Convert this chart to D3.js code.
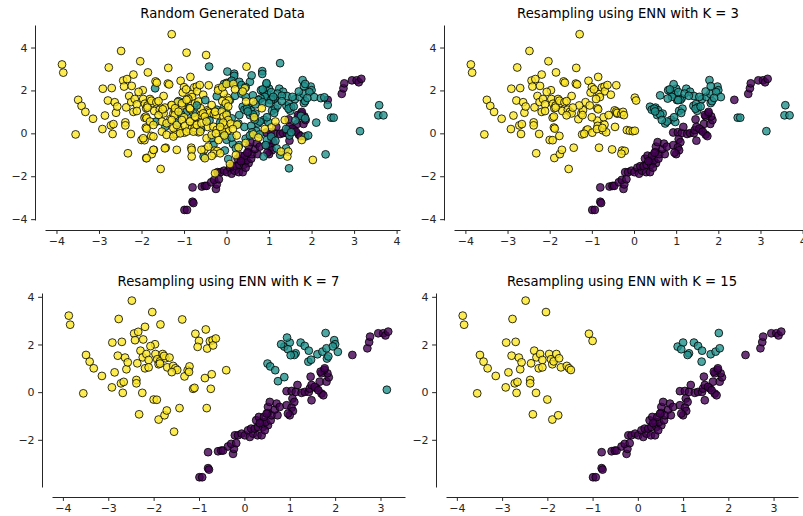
<!DOCTYPE html>
<html><head><meta charset="utf-8">
<script src="https://cdn.jsdelivr.net/npm/d3@7"></script>
<style>body{margin:0;background:#fff}text{font-family:"DejaVu Sans",sans-serif}</style>
</head><body><svg id="c" width="803" height="516"></svg>
<script>
// viridis colours for the three classes
const classColors = ["#440154", "#21918c", "#fde725"];

// class 0 (minority, kept in every panel)
const purple = [[-0.99,-3.57],[-0.93,-3.57],[-0.80,-3.19],[-0.78,-3.25],[-0.80,-2.52],[-0.58,-2.48],[-0.51,-2.45],[-0.47,-2.45],[-0.36,-2.28],[-0.25,-2.59],[-0.23,-2.38],[-0.29,-2.17],[-0.18,-2.14],[-0.21,-1.81],[-0.14,-1.81],[-0.06,-1.74],[0.01,-1.81],[0.08,-1.60],[0.12,-1.88],[0.19,-1.74],[0.15,-1.53],[0.23,-1.53],[0.29,-1.81],[0.38,-1.81],[0.30,-1.46],[0.41,-1.46],[0.52,-1.39],[0.26,-1.18],[0.38,-1.25],[0.47,-1.25],[0.58,-1.18],[0.32,-1.04],[0.43,-1.04],[0.52,-0.87],[0.60,-0.97],[0.73,-0.97],[0.67,-0.73],[0.52,-0.62],[0.56,-0.41],[0.71,-0.48],[0.78,-0.62],[0.49,-0.90],[0.34,-1.30],[0.45,-1.60],[0.93,0.04],[1.04,0.05],[1.13,0.01],[1.17,0.30],[1.26,-0.03],[1.33,0.01],[1.42,0.01],[1.44,0.15],[1.46,0.65],[1.48,0.30],[1.59,0.16],[1.70,-0.06],[1.48,-0.34],[1.06,-0.27],[1.10,-0.41],[0.93,-0.55],[1.04,-0.65],[1.07,-0.79],[1.00,-0.97],[0.96,-0.90],[1.66,0.44],[1.81,0.44],[1.86,0.62],[1.83,0.79],[1.70,0.79],[1.76,0.93],[1.68,0.86],[1.77,1.00],[1.55,0.22],[1.63,0.08],[1.74,-0.13],[2.38,1.56],[2.71,1.84],[2.75,2.10],[2.77,2.33],[2.95,2.47],[3.06,2.47],[3.11,2.38],[3.17,2.54]];

// class 1 (teal): kept at K=15, extra kept at K=7, extra kept at K=3, removed already at K=3
const tealK15 = [[1.79,2.48],[0.88,1.91],[1.00,2.08],[0.96,1.80],[1.13,1.63],[1.10,1.56],[1.24,2.08],[1.33,1.94],[1.42,1.74],[1.41,1.28],[1.61,1.59],[1.72,1.70],[1.81,1.84]];
const tealK7 = [[0.81,2.01],[0.94,2.29],[1.02,1.55],[1.47,1.36],[1.82,1.41],[1.85,1.50],[1.98,2.18],[2.00,2.01],[1.95,1.92],[2.06,1.69],[0.51,1.20],[0.57,1.08],[0.68,0.92],[0.74,0.46],[0.88,0.63],[3.14,0.10]];
const tealK3 = [[0.62,1.77],[0.38,1.24],[0.42,1.10],[0.48,1.15],[0.55,0.85],[0.62,0.88],[0.50,1.02],[0.98,0.53],[0.95,0.75],[1.07,1.05],[1.15,1.15],[1.12,0.95],[1.50,1.05],[1.52,1.22],[1.46,1.15],[1.58,1.25],[2.46,0.73],[2.52,0.73],[3.59,1.31],[3.57,0.84],[3.69,0.84],[0.85,2.05],[0.90,1.70],[1.05,1.92],[0.80,1.62],[1.05,1.55],[1.20,1.85],[1.30,1.75],[1.55,1.70],[1.70,1.95],[1.82,2.20],[1.90,1.65],[0.78,0.55],[0.66,0.62]];
const tealRemoved = [[-0.41,3.11],[0.02,2.88],[0.18,2.78],[0.18,2.68],[0.84,2.90],[0.84,2.77],[1.26,3.27],[0.00,2.35],[0.08,2.38],[-0.06,2.30],[0.12,2.45],[0.30,2.40],[0.35,2.25],[0.55,2.40],[0.59,2.70],[0.94,2.34],[1.85,2.30],[0.45,2.15],[-1.68,2.10],[-1.13,1.50],[-0.98,1.47],[-0.94,1.00],[-0.78,0.94],[-1.06,0.86],[-1.66,0.54],[-1.44,0.31],[-1.17,0.49],[-0.35,-0.23],[-0.31,-0.55],[-0.54,-1.08],[-0.23,1.73],[-0.23,1.10],[0.08,1.55],[0.20,1.75],[0.35,1.85],[0.45,1.70],[0.00,0.95],[0.12,0.70],[0.30,0.85],[0.28,0.45],[0.42,0.30],[0.58,0.35],[0.70,0.10],[0.60,0.05],[0.78,-0.05],[0.95,-0.30],[1.05,-0.15],[1.15,-0.35],[0.92,-0.55],[1.40,-0.70],[1.26,-1.00],[0.87,-1.08],[1.18,-0.70],[1.85,-0.15],[1.92,-0.10],[0.00,-0.30],[0.15,-0.50],[0.30,-0.55],[0.22,-0.70],[-0.04,-0.80],[0.04,-1.20],[-0.07,-0.05],[0.12,-0.20],[0.45,-0.25],[0.55,-0.10],[1.40,0.20],[1.48,-0.10],[1.52,0.05],[2.11,0.50],[1.47,-1.63],[2.33,-0.98],[1.75,0.81],[1.85,0.70],[1.62,0.60],[2.22,1.64],[2.30,1.68],[2.38,1.32],[0.75,1.55],[0.85,1.45],[1.00,1.40],[1.20,1.30],[1.30,1.50],[0.68,1.35],[1.10,1.70],[-0.05,1.25],[-0.15,0.50],[-0.60,0.20],[-0.70,1.30],[-0.50,1.55],[-0.40,0.60]];

// class 2 (yellow): same grouping
const yellowK15 = [[-3.87,3.21],[-3.84,2.83],[-3.55,-0.05],[-3.49,1.56],[-3.41,1.28],[-3.32,1.00],[-3.14,0.68],[-2.92,0.20],[-2.91,2.08],[-2.86,0.83],[-2.79,1.53],[-2.77,3.07],[-2.72,0.37],[-2.70,2.11],[-2.68,-0.03],[-2.66,0.43],[-2.63,1.45],[-2.60,0.96],[-2.57,1.25],[-2.48,3.84],[-2.36,1.21],[-2.38,0.51],[-2.38,0.37],[-2.32,-0.93],[-2.29,1.74],[-2.24,1.46],[-2.25,-0.03],[-2.19,1.00],[-2.16,1.60],[-2.11,1.35],[-2.11,1.04],[-2.03,3.36],[-2.00,-0.31],[-1.96,1.60],[-1.92,1.38],[-1.89,1.17],[-1.89,-1.15],[-1.86,1.29],[-1.80,1.60],[-1.76,-0.97],[-1.74,1.42],[-1.70,1.04],[-1.57,1.10],[-1.52,1.00],[-1.48,0.93],[-1.08,2.45],[-1.00,2.15]];
const yellowK7 = [[-1.93,-0.32],[-1.97,2.01],[-1.85,2.84],[-2.19,2.74],[-2.43,2.46],[-2.34,2.53],[-2.41,2.18],[-2.23,2.21],[-2.07,1.93],[-1.86,1.20],[-1.60,0.84],[-1.32,0.66],[-1.25,0.92],[-1.21,1.08],[-1.22,0.85],[-1.37,3.05],[-1.71,-0.77],[-1.43,-0.67],[-1.55,-1.66],[-1.13,0.14],[-1.10,0.18],[-1.03,1.90],[-0.85,2.63],[-0.82,1.83],[-0.76,2.14],[-0.70,2.18],[-0.69,1.96],[-0.63,2.25],[-0.87,0.59],[-0.72,0.75],[-0.74,0.14],[-0.83,-0.67],[-0.40,0.92],[-1.77,1.52],[-1.65,1.45]];
const yellowK3 = [[-1.29,4.62],[-1.67,2.42],[-1.64,2.36],[-1.38,2.32],[-1.35,2.28],[-0.42,2.24],[-1.77,-0.12],[-1.90,0.27],[-1.88,0.22],[-1.48,1.74],[-1.93,0.73],[-1.90,0.78],[-1.23,-0.05],[-1.18,-0.02],[-0.99,0.03],[-0.86,0.35],[-0.88,0.20],[-0.87,1.17],[-0.85,1.12],[-0.81,1.69],[-0.90,1.60],[-0.70,0.40],[-0.66,0.05],[-0.75,0.25],[-0.52,-0.75],[-0.46,1.07],[-0.42,1.02],[0.02,1.66],[0.05,1.53],[-0.40,0.95],[-0.30,0.90],[-0.26,1.00],[-0.24,0.85],[-0.17,0.15],[-0.10,0.12],[-0.03,0.10],[0.02,0.12],[-0.45,0.30],[-0.28,-0.80],[-0.22,-0.82],[-0.30,-0.95],[-1.60,1.50],[-1.15,1.45],[-1.05,1.30],[-1.00,0.75],[-0.60,0.85],[-0.55,1.80],[-1.30,1.30],[-0.95,2.05],[-1.45,1.20]];
const yellowRemoved = [[-0.94,3.76],[-0.48,3.65],[-0.19,2.10],[-0.07,1.87],[-1.50,1.12],[-1.29,1.32],[-1.21,1.17],[-1.13,1.01],[-1.05,1.40],[-0.94,1.56],[-0.86,1.17],[-0.74,1.40],[-0.66,1.48],[-0.61,1.17],[-0.55,0.93],[-0.51,0.78],[-0.35,1.32],[-0.27,1.01],[-0.11,1.01],[-0.07,0.78],[0.00,0.86],[0.04,0.62],[-1.88,0.70],[-1.80,0.55],[-1.72,0.39],[-1.52,0.55],[-1.41,0.47],[-1.29,0.62],[-1.25,0.24],[-1.17,0.39],[-1.05,0.62],[-0.98,0.35],[-0.86,0.55],[-0.74,0.78],[-0.70,0.39],[-0.59,0.47],[-0.47,0.55],[-0.31,0.31],[-0.23,0.16],[-0.11,0.16],[-0.04,0.39],[-1.96,-0.23],[-1.72,-0.15],[-1.52,0.08],[-1.41,-0.07],[-1.25,-0.15],[-1.09,0.00],[-0.94,0.08],[-0.78,0.08],[-0.62,0.08],[-0.47,-0.23],[-0.35,-0.07],[-0.19,-0.31],[-1.72,-0.77],[-1.45,-0.70],[-1.17,-0.77],[-0.82,-0.77],[-0.59,-0.77],[-0.43,-0.62],[-0.35,-1.05],[-0.15,-0.93],[-1.88,-1.16],[-0.82,-1.08],[-0.51,-1.16],[0.47,3.11],[-0.20,2.00],[-0.10,2.15],[0.00,2.30],[0.16,2.30],[0.20,2.05],[0.43,2.10],[0.38,1.95],[-0.10,1.50],[-0.02,1.40],[0.04,1.25],[0.46,1.48],[0.63,1.48],[0.83,1.17],[-0.08,0.50],[0.10,0.45],[0.25,0.40],[0.15,0.20],[-0.15,0.30],[-0.25,0.00],[-0.05,-0.10],[0.24,-0.10],[0.63,-0.05],[0.75,-0.20],[0.45,-0.45],[0.28,-0.65],[0.08,-1.43],[0.22,-1.01],[-0.27,-1.86],[1.06,0.28],[1.28,-0.85],[1.45,-0.85],[1.43,-1.08],[2.03,-1.24],[1.77,-0.31],[1.37,0.62],[0.90,0.20],[1.15,0.55],[0.65,0.75]];

const titles = ["Random Generated Data", "Resampling using ENN with K = 3", "Resampling using ENN with K = 7", "Resampling using ENN with K = 15"];
const xTicksTop = [-4,-3,-2,-1,0,1,2,3,4];
const yTicksTop = [-4,-2,0,2,4];
const xTicksBottom = [-4,-3,-2,-1,0,1,2,3];
const yTicksBottom = [-2,0,2,4];

const panels = [
  {title: titles[0], box: {l:45, r:400, t:25, b:220}, xDom:[-4.27,4.08], yDom:[-4.04,5.05], xt:xTicksTop, yt:yTicksTop,
   teal: [...tealK15, ...tealK7, ...tealK3, ...tealRemoved], yellow: [...yellowK15, ...yellowK7, ...yellowK3, ...yellowRemoved]},
  {title: titles[1], box: {l:454, r:806, t:25, b:220}, xDom:[-4.27,4.08], yDom:[-4.04,5.05], xt:xTicksTop, yt:yTicksTop,
   teal: [...tealK15, ...tealK7, ...tealK3], yellow: [...yellowK15, ...yellowK7, ...yellowK3]},
  {title: titles[2], box: {l:52, r:405, t:293, b:487}, xDom:[-4.24,3.54], yDom:[-3.98,4.16], xt:xTicksBottom, yt:yTicksBottom,
   teal: [...tealK15, ...tealK7], yellow: [...yellowK15, ...yellowK7]},
  {title: titles[3], box: {l:446, r:798, t:293, b:487}, xDom:[-4.24,3.54], yDom:[-3.98,4.16], xt:xTicksBottom, yt:yTicksBottom,
   teal: [...tealK15], yellow: [...yellowK15]}
];

const svg = d3.select("#c");

function interleave(groups) {
  const out = [];
  const n = d3.max(groups, g => g.pts.length);
  for (let i = 0; i < n; i++) groups.forEach(g => { if (i < g.pts.length) out.push({x: g.pts[i][0], y: g.pts[i][1], c: g.cls}); });
  return out;
}

panels.forEach(p => {
  const x = d3.scaleLinear().domain(p.xDom).range([p.box.l, p.box.r]);
  const y = d3.scaleLinear().domain(p.yDom).range([p.box.b, p.box.t]);
  const g = svg.append("g");
  const pts = interleave([{pts: purple, cls: 0}, {pts: p.teal, cls: 1}, {pts: p.yellow, cls: 2}]);
  g.selectAll("circle").data(pts).join("circle")
    .attr("cx", d => x(d.x)).attr("cy", d => y(d.y)).attr("r", 3.9)
    .attr("fill", d => classColors[d.c]).attr("fill-opacity", 0.8)
    .attr("stroke", "#000").attr("stroke-opacity", 0.8).attr("stroke-width", 1);

  const xa = g.append("g").attr("transform", `translate(0,${p.box.b + 10})`)
    .call(d3.axisBottom(x).tickValues(p.xt).tickSize(3.9).tickPadding(3.5).tickSizeOuter(0).tickFormat(d3.format("d")));
  const ya = g.append("g").attr("transform", `translate(${p.box.l - 10},0)`)
    .call(d3.axisLeft(y).tickValues(p.yt).tickSize(3.9).tickPadding(3.5).tickSizeOuter(0).tickFormat(d3.format("d")));
  [xa, ya].forEach(a => {
    a.selectAll("text").attr("font-size", 11).attr("font-family", "DejaVu Sans").attr("fill", "#262626");
    a.select(".domain").attr("stroke", "#262626").attr("stroke-width", 1);
    a.selectAll(".tick line").attr("stroke", "#262626").attr("stroke-width", 1);
  });

  g.append("text").attr("x", (p.box.l + p.box.r) / 2 - (p === panels[1] ? 2 : 0)).attr("y", p.box.t - 7)
    .attr("text-anchor", "middle").attr("font-size", 13.2).attr("fill", "#000").text(p.title);
});
</script></body></html>
